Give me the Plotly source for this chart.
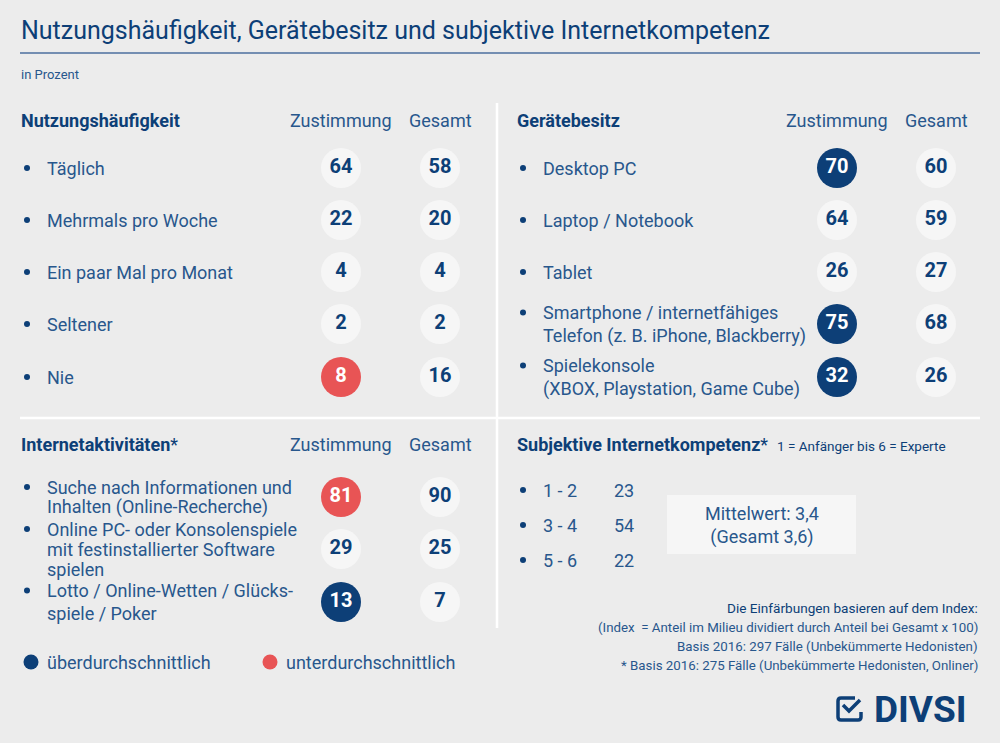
"""
DIVSI infographic: Nutzungshaeufigkeit, Geraetebesitz und subjektive Internetkompetenz
"""
import plotly.graph_objects as go

# ---- data ----
nutz_labels = ["Täglich", "Mehrmals pro Woche", "Ein paar Mal pro Monat", "Seltener", "Nie"]
nutz_zust = [64, 22, 4, 2, 8]
nutz_ges = [58, 20, 4, 2, 16]
nutz_idx = ["", "", "", "", "lo"]

geraet_labels = ["Desktop PC", "Laptop / Notebook", "Tablet",
                 "Smartphone / internetfähiges<br>Telefon (z. B. iPhone, Blackberry)",
                 "Spielekonsole<br>(XBOX, Playstation, Game Cube)"]
geraet_zust = [70, 64, 26, 75, 32]
geraet_ges = [60, 59, 27, 68, 26]
geraet_idx = ["hi", "", "", "hi", "hi"]

akt_labels = ["Suche nach Informationen und<br>Inhalten (Online-Recherche)",
              "Online PC- oder Konsolenspiele<br>mit festinstallierter Software<br>spielen",
              "Lotto / Online-Wetten / Glücks-<br>spiele / Poker"]
akt_zust = [81, 29, 13]
akt_ges = [90, 25, 7]
akt_idx = ["lo", "", "hi"]

komp_labels = ["1 - 2", "3 - 4", "5 - 6"]
komp_werte = [23, 54, 22]
komp_mittel = "3,4"
komp_mittel_ges = "3,6"

footnotes = ["(Index  = Anteil im Milieu dividiert durch Anteil bei Gesamt x 100)",
             "Basis 2016: 297 Fälle (Unbekümmerte Hedonisten)",
             "* Basis 2016: 275 Fälle (Unbekümmerte Hedonisten, Onliner)"]

# ---- styles ----
BG = "#ececec"
DARK = "#0d3f77"
TXT = "#28578c"
RED = "#e85455"
LIGHT = "#f6f6f6"
FONT = "Roboto"
FILL = {"hi": DARK, "lo": RED, "": LIGHT}
NUMCOL = {"hi": "white", "lo": "white", "": DARK}

fig = go.Figure()
annots = []
shapes = []
bullet_x, bullet_y = [], []


def txt(x, y, s, size=18, color=TXT, xanchor="left", bold=False, **kw):
    if bold:
        s = "<b>" + s + "</b>"
    if xanchor == "left":
        x -= 1.5  # side bearing of the font
    annots.append(dict(x=x, y=y, text=s, showarrow=False, xanchor=xanchor, yanchor="middle",
                       font=dict(family=FONT, size=size, color=color), **kw))


def block(x0, xz, xg, y_head, title, ys, labels, zust, ges, idx, spacing):
    txt(x0, y_head, title, size=18, color=DARK, bold=True)
    txt(xz, y_head, "Zustimmung", xanchor="center")
    txt(xg, y_head, "Gesamt", xanchor="center")
    for y, lab, sp in zip(ys, labels, spacing):
        lines = lab.split("<br>")
        n = len(lines)
        for i, line in enumerate(lines):
            txt(x0 + 26, y + (i - (n - 1) / 2) * sp, line)
        bullet_x.append(x0 + 7)
        bullet_y.append(y - (n - 1) * sp / 2)
    for xc, vals, cols in [(xz, zust, idx), (xg, ges, [""] * len(ges))]:
        fig.add_trace(go.Scatter(
            x=[xc] * len(vals), y=ys, mode="markers+text",
            text=["<b>%d</b>" % v for v in vals], textposition="middle center",
            textfont=dict(family=FONT, size=20, color=[NUMCOL[c] for c in cols]),
            marker=dict(size=40, color=[FILL[c] for c in cols], line=dict(width=0)),
            hoverinfo="skip", showlegend=False))


# title
txt(20, 30, "Nutzungshäufigkeit, Gerätebesitz und subjektive Internetkompetenz", size=25, color=DARK)
shapes.append(dict(type="line", x0=20, x1=980, y0=53, y1=53, line=dict(color="#4c6f9f", width=1.5)))
txt(20, 74, "in Prozent", size=13)

# white dividers
shapes.append(dict(type="line", x0=497, x1=497, y0=103, y1=628, line=dict(color="white", width=2.5)))
shapes.append(dict(type="line", x0=20, x1=980, y0=418, y1=418, line=dict(color="white", width=2.5)))

rows_top = [168, 220, 272, 324, 377]
block(20, 341, 440, 120, "Nutzungshäufigkeit", rows_top, nutz_labels, nutz_zust, nutz_ges,
      nutz_idx, [23] * 5)
block(516, 837, 936, 120, "Gerätebesitz", rows_top, geraet_labels, geraet_zust, geraet_ges,
      geraet_idx, [23] * 5)
block(20, 341, 440, 444, "Internetaktivitäten<span style='font-weight:normal'>*</span>",
      [497, 549, 602], akt_labels, akt_zust, akt_ges, akt_idx, [20, 20, 23])

# subjektive Internetkompetenz
txt(516, 444, "<b>Subjektive Internetkompetenz</b>*  <span style='font-size:13.5px'>1 = Anfänger bis 6 = Experte</span>",
    size=18, color=DARK)
for y, lab, v in zip([490, 525, 560], komp_labels, komp_werte):
    bullet_x.append(523)
    bullet_y.append(y)
    txt(542, y, lab)
    txt(613, y, str(v))
shapes.append(dict(type="rect", x0=667, x1=856, y0=495, y1=554, fillcolor=LIGHT, line=dict(width=0),
                   layer="below"))
txt(762, 525, "Mittelwert: %s<br>(Gesamt %s)" % (komp_mittel, komp_mittel_ges), size=18,
    xanchor="center", align="center")

# bullets
fig.add_trace(go.Scatter(x=bullet_x, y=bullet_y, mode="markers",
                         marker=dict(size=6, color=DARK), hoverinfo="skip", showlegend=False))

# legend
fig.add_trace(go.Scatter(x=[31, 270], y=[662, 662], mode="markers",
                         marker=dict(size=15, color=[DARK, RED]), hoverinfo="skip", showlegend=False))
txt(46, 662, "überdurchschnittlich")
txt(285, 662, "unterdurchschnittlich")

# footnotes
txt(980, 608, "Die Einfärbungen basieren auf dem Index:", size=13.6, color=DARK, xanchor="right")
for y, s in zip([627, 646, 665], footnotes):
    txt(980, y, s, size=13.3, xanchor="right")

# logo
shapes.append(dict(type="path", path="M 855 698 L 841 698 Q 838 698 838 701 L 838 717 Q 838 720 841 720 "
                                      "L 858 720 Q 861 720 861 717 L 861 712",
                   line=dict(color=DARK, width=3.5)))
shapes.append(dict(type="path", path="M 843 705 L 849 711 L 860 700", line=dict(color=DARK, width=3.5)))
txt(920, 709, "<b>DIVSI</b>", size=37, color=DARK, xanchor="center")

fig.update_layout(width=1000, height=743, margin=dict(l=0, r=0, t=0, b=0),
                  paper_bgcolor=BG, plot_bgcolor=BG,
                  xaxis=dict(range=[0, 1000], visible=False, fixedrange=True),
                  yaxis=dict(range=[743, 0], visible=False, fixedrange=True),
                  annotations=annots, shapes=shapes)
fig.write_html("out.html", config={"displayModeBar": False},
               post_script="document.body.style.margin='0';document.body.style.background='%s';" % BG)
